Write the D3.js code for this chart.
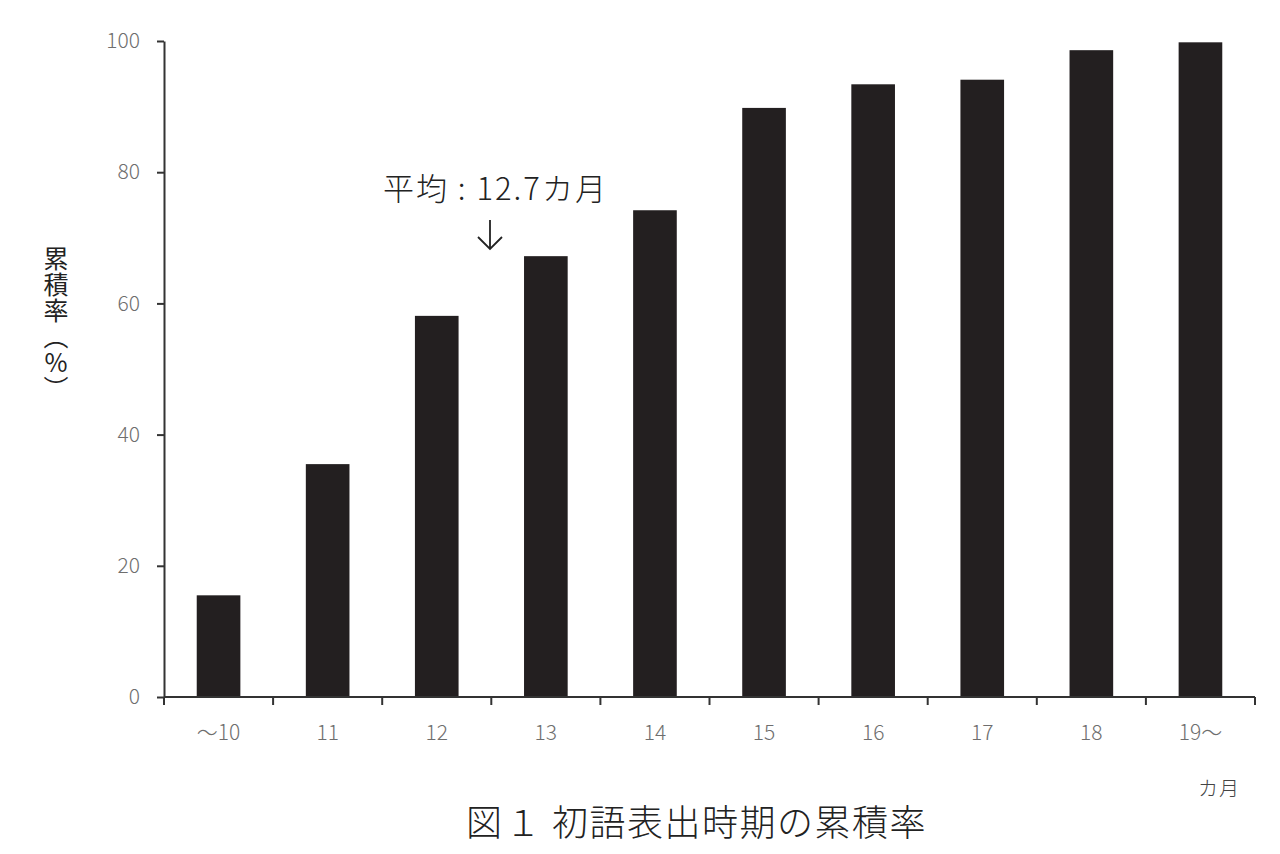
<!DOCTYPE html>
<html>
<head>
<meta charset="utf-8">
<script src="https://cdn.jsdelivr.net/npm/d3@7"></script>
<style>
  body { margin: 0; background: #fff; }
  text { font-family: "Noto Sans CJK JP", sans-serif; }
</style>
</head>
<body>
<div class="canvas"></div>
<script>
// data
const months = ['～10', '11', '12', '13', '14', '15', '16', '17', '18', '19～'];
const cumRate = [15.5, 35.5, 58.1, 67.2, 74.2, 89.8, 93.4, 94.1, 98.6, 99.8];
const yTicks = [0, 20, 40, 60, 80, 100];
const yTitle = '累積率（%）';

const dims = { width: 1280, height: 854 };
const margin = { top: 41, left: 164, right: 25, bottom: 157 };

const svg = d3.select('.canvas')
    .append('svg')
    .attr('width', dims.width)
    .attr('height', dims.height);

const x = d3.scaleBand()
    .domain(months)
    .range([margin.left, dims.width - margin.right])
    .paddingInner(0.6)
    .paddingOuter(0.3);

const y = d3.scaleLinear()
    .domain([0, 100])
    .range([dims.height - margin.bottom, margin.top]);

// bars
svg.append('g')
    .selectAll('rect')
    .data(cumRate)
    .enter()
    .append('rect')
    .attr('x', (d, i) => x(months[i]))
    .attr('y', d => y(d))
    .attr('width', x.bandwidth())
    .attr('height', d => y(0) - y(d))
    .attr('fill', '#231f20');

// y axis
const yAxis = d3.axisLeft(y)
    .tickValues(yTicks)
    .tickSize(7)
    .tickPadding(17)
    .tickSizeOuter(0);

const yGroup = svg.append('g')
    .attr('transform', `translate(${margin.left}, 0)`)
    .call(yAxis);

yGroup.select('.domain').attr('stroke', '#333').attr('stroke-width', 2);
yGroup.selectAll('line').attr('stroke', '#333').attr('stroke-width', 2);
yGroup.selectAll('text')
    .attr('fill', '#6e6e6e')
    .style('font-size', '21px')
    .style('font-weight', 300);

// x axis: line, ticks at band edges, labels centred
const x0 = margin.left;
const x1 = dims.width - margin.right;
const xGroup = svg.append('g');

xGroup.append('line')
    .attr('x1', x0).attr('x2', x1)
    .attr('y1', y(0)).attr('y2', y(0))
    .attr('stroke', '#333').attr('stroke-width', 2);

const bounds = d3.range(months.length + 1).map(i => x0 + x.step() * i);

xGroup.selectAll('.tick')
    .data(bounds)
    .enter()
    .append('line')
    .attr('x1', d => d).attr('x2', d => d)
    .attr('y1', y(0)).attr('y2', y(0) + 8)
    .attr('stroke', '#333').attr('stroke-width', 2);

xGroup.selectAll('.lbl')
    .data(months)
    .enter()
    .append('text')
    .attr('x', d => x(d) + x.bandwidth() / 2)
    .attr('y', y(0) + 43)
    .attr('text-anchor', 'middle')
    .attr('fill', '#6e6e6e')
    .style('font-size', '21px')
    .style('font-weight', 300)
    .text(d => d);

// unit
svg.append('text')
    .attr('x', 1198)
    .attr('y', 796)
    .attr('fill', '#444')
    .style('font-size', '20px')
    .style('font-weight', 300)
    .style('letter-spacing', '1px')
    .text('カ月');

// y label, vertical writing
svg.append('text')
    .attr('x', 56)
    .attr('y', 246)
    .attr('fill', '#222')
    .style('font-size', '25px')
    .style('letter-spacing', '1px')
    .style('writing-mode', 'vertical-rl')
    .style('text-orientation', 'upright')
    .text(yTitle);

// mean annotation
svg.append('text')
    .attr('x', 383)
    .attr('y', 200)
    .attr('fill', '#222')
    .style('font-size', '31px')
    .style('font-weight', 300)
    .style('letter-spacing', '2px')
    .text('平均 : 12.7カ月');

svg.append('path')
    .attr('d', 'M490,220 V249 M478,237 L490,249 L502,237')
    .attr('fill', 'none')
    .attr('stroke', '#222')
    .attr('stroke-width', 1.8);

// title
svg.append('text')
    .attr('x', 466)
    .attr('y', 836)
    .attr('fill', '#222')
    .style('font-size', '36px')
    .style('font-weight', 300)
    .style('letter-spacing', '3px')
    .text('図１');

svg.append('text')
    .attr('x', 552)
    .attr('y', 836)
    .attr('fill', '#222')
    .style('font-size', '36px')
    .style('font-weight', 300)
    .style('letter-spacing', '1.5px')
    .text('初語表出時期の累積率');
</script>
</body>
</html>
